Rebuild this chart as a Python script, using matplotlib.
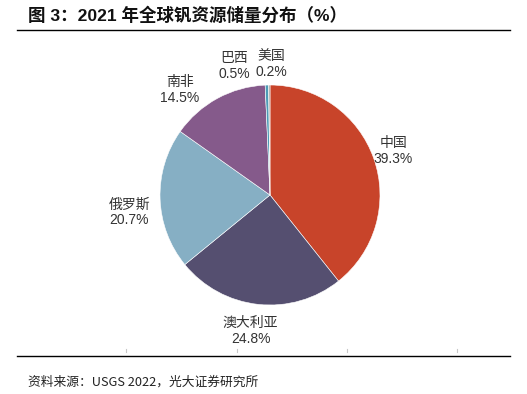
import numpy as np
import matplotlib
matplotlib.use("Agg")
import matplotlib.pyplot as plt
from matplotlib.lines import Line2D

plt.rcParams['font.family'] = ['Liberation Sans', 'Noto Sans CJK SC', 'DejaVu Sans']

countries = ['中国', '澳大利亚', '俄罗斯', '南非', '巴西', '美国']
shares = [39.3, 24.8, 20.7, 14.5, 0.5, 0.2]
colors = ['#C8442A', '#554F70', '#86AFC4', '#855A8B', '#4C9BB6', '#9C9C9C']

title = '图 3：2021 年全球钒资源储量分布（%）'
source = '资料来源：USGS 2022，光大证券研究所'

W, H = 527, 394
fig = plt.figure(figsize=(W / 100, H / 100), dpi=100)
fig.patch.set_facecolor('white')

cx, cy, R = 270, 195, 110
ax = fig.add_axes([0, 0, 1, 1])
wedges, _ = ax.pie(shares, colors=colors, startangle=90, counterclock=False,
                   wedgeprops=dict(edgecolor='white', linewidth=0.4))
ax.set_xlim(-cx / R, (W - cx) / R)
ax.set_ylim(-(H - cy) / R, cy / R)
ax.set_aspect('equal', adjustable='box')
ax.axis('off')

# label layout (angle offset in degrees, distance in radii)
offsets = [0.5, -2, 5, 12, 14, -0.8]
dists = [1.19, 1.25, 1.29, 1.26, 1.22, 1.19]
for w, name, val, dth, d in zip(wedges, countries, shares, offsets, dists):
    th = np.deg2rad((w.theta1 + w.theta2) / 2 + dth)
    ax.text(d * np.cos(th), d * np.sin(th), f'{name}\n{val:.1f}%',
            ha='center', va='center', fontsize=10, color='#333333',
            linespacing=1.15)

# title, rules, ticks, source
fig.text(28 / W, 1 - 15 / H, title, fontsize=12.6, fontweight='bold',
         ha='left', va='center', color='#111111',
         family=['Liberation Sans', 'Noto Sans CJK SC'])
fig.add_artist(Line2D([17 / W, 510 / W], [1 - 30 / H, 1 - 30 / H],
                      color='black', linewidth=1.0))
fig.add_artist(Line2D([17 / W, 510 / W], [1 - 356 / H, 1 - 356 / H],
                      color='black', linewidth=1.0))
for tx in [126, 237, 347, 457]:
    fig.add_artist(Line2D([tx / W, tx / W], [1 - 348.5 / H, 1 - 352 / H],
                          color='#C8C8C8', linewidth=0.8))
fig.text(28 / W, 1 - 382 / H, source, fontsize=9.2, ha='left', va='center',
         color='#222222', family=['Noto Sans CJK SC', 'DejaVu Sans'])

fig.savefig('out.png', dpi=100, facecolor='white')
